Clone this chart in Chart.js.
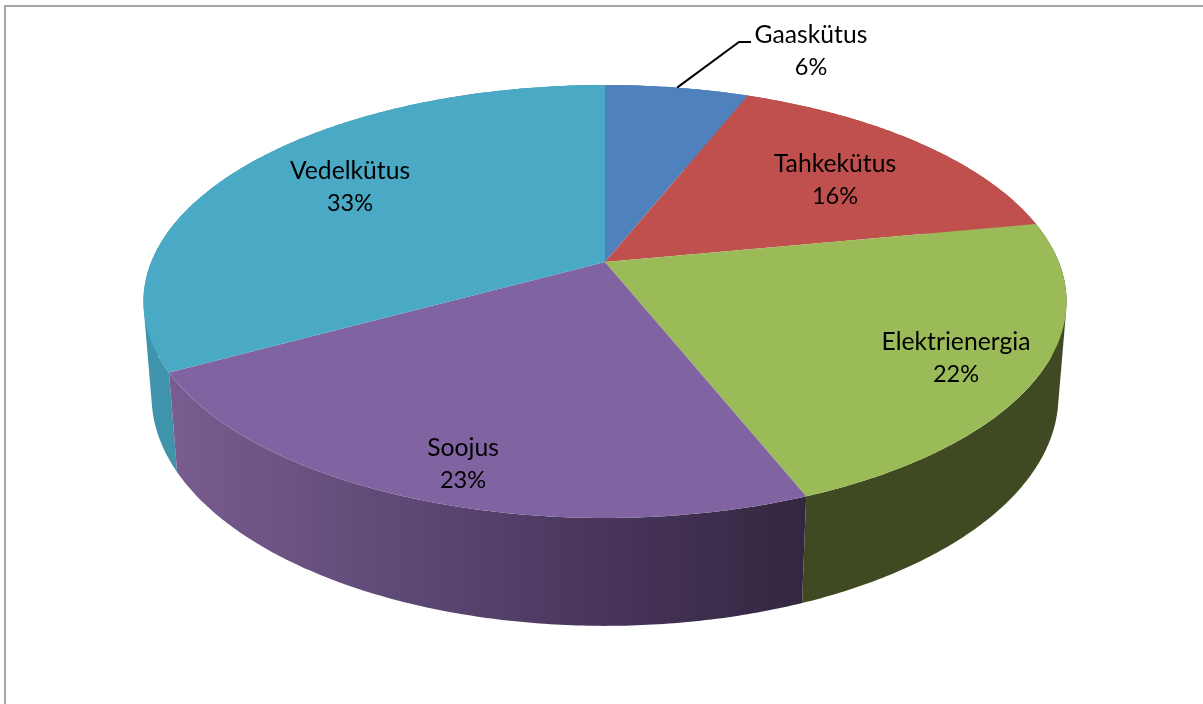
<!DOCTYPE html>
<html>
<head>
<meta charset="utf-8">
<script src="https://cdn.jsdelivr.net/npm/chart.js@4"></script>
<style>
  html, body { margin: 0; padding: 0; background: #fff; overflow: hidden; }
  #frame { position: absolute; left: 4px; top: 5px; right: 0; bottom: 0; border-left: 2px solid #a6a6a6; border-top: 2px solid #a6a6a6; }
  canvas { position: absolute; left: 0; top: 0; }
</style>
</head>
<body>
<canvas id="pie" width="1203" height="704"></canvas>
<div id="frame"></div>
<script>
const categories = ["Gaask\u00fctus", "Tahkek\u00fctus", "Elektrienergia", "Soojus", "Vedelk\u00fctus"];
const shares = [6, 16, 22, 23, 33];
const topColors = ["#4f81bd", "#c0504d", "#9bbb59", "#8064a2", "#4aa9c4"];

// perspective of the tilted disc, fitted on the rim of the picture
const VIEW = { cx: 605, cy: 262, a: 453.8, b: 209.3, k: 0.1824, depthW: 0.0173, depthY: 94.5 };
// centre of each two-line label
const LABEL_POS = [[811, 35], [835, 164], [956, 342], [463, 448], [350, 171]];
const LINE_HEIGHT = 32;

function project(angle, z) {
  const x = Math.cos(angle);
  const y = Math.sin(angle);
  const w = 1 - VIEW.k * y + VIEW.depthW * z;
  return {
    x: VIEW.cx + (VIEW.a * x) / w,
    y: VIEW.cy + (VIEW.b * y + VIEW.depthY * z) / w,
  };
}

function rimPoints(arc, z) {
  const steps = Math.ceil((arc.endAngle - arc.startAngle) / 0.01);
  const points = [];
  for (let i = 0; i <= steps; i++) {
    points.push(project(arc.startAngle + ((arc.endAngle - arc.startAngle) * i) / steps, z));
  }
  return points;
}

function wallFill(ctx, index) {
  if (index === 3) {
    const gradient = ctx.createLinearGradient(172, 0, 806, 0);
    gradient.addColorStop(0, "#795c90");
    gradient.addColorStop(0.35, "#5e4a76");
    gradient.addColorStop(0.7, "#47345a");
    gradient.addColorStop(1, "#332740");
    return gradient;
  }
  if (index === 2) return "#404a22";
  if (index === 4) return "#3f93aa";
  return topColors[index];
}

// one strip of the wall, always wound the same way so the fold at the
// silhouette does not cancel out under the nonzero fill
function addWallQuad(ctx, a, b, c, d) {
  const quad = [a, b, c, d];
  let area = 0;
  quad.forEach((p, i) => {
    const q = quad[(i + 1) % 4];
    area += p.x * q.y - q.x * p.y;
  });
  if (area < 0) quad.reverse();
  quad.forEach((p, i) => (i ? ctx.lineTo(p.x, p.y) : ctx.moveTo(p.x, p.y)));
  ctx.closePath();
}

const pie3dPlugin = {
  id: "pie-3d",
  beforeDatasetsDraw(chart) {
    const { ctx } = chart;
    const arcs = chart.getDatasetMeta(0).data;
    ctx.save();
    // walls first, the top face covers whatever faces backwards
    [0, 1, 4, 2, 3].forEach((index) => {
      const top = rimPoints(arcs[index], 0);
      const bottom = rimPoints(arcs[index], 1);
      ctx.beginPath();
      for (let i = 0; i < top.length - 1; i++) {
        addWallQuad(ctx, top[i], top[i + 1], bottom[i + 1], bottom[i]);
      }
      ctx.fillStyle = wallFill(ctx, index);
      ctx.fill();
    });
    arcs.forEach((arc, index) => {
      ctx.beginPath();
      ctx.moveTo(VIEW.cx, VIEW.cy);
      rimPoints(arc, 0).forEach((p) => ctx.lineTo(p.x, p.y));
      ctx.closePath();
      ctx.fillStyle = topColors[index];
      ctx.fill();
    });
    ctx.restore();
    return false;
  },
  afterDraw(chart) {
    const { ctx } = chart;
    const first = chart.getDatasetMeta(0).data[0];
    const start = project((first.startAngle + first.endAngle) / 2, 0);
    ctx.save();
    ctx.strokeStyle = "#000";
    ctx.lineWidth = 2;
    ctx.beginPath();
    ctx.moveTo(start.x, start.y);
    ctx.lineTo(739, 42);
    ctx.lineTo(751, 42);
    ctx.stroke();
    ctx.fillStyle = "#000";
    ctx.textAlign = "center";
    ctx.textBaseline = "middle";
    categories.forEach((name, index) => {
      const [x, y] = LABEL_POS[index];
      ctx.font = "24.7px Lato";
      ctx.fillText(name, x, y);
      ctx.font = "23.5px Lato";
      ctx.fillText(`${shares[index]}%`, x, y + LINE_HEIGHT);
    });
    ctx.restore();
  },
};

new Chart(document.getElementById("pie"), {
  type: "pie",
  data: {
    labels: categories,
    datasets: [{ data: shares, backgroundColor: topColors, borderWidth: 0 }],
  },
  options: {
    responsive: false,
    animation: false,
    plugins: {
      legend: { display: false },
      tooltip: { enabled: false },
    },
  },
  plugins: [pie3dPlugin],
});
</script>
</body>
</html>
